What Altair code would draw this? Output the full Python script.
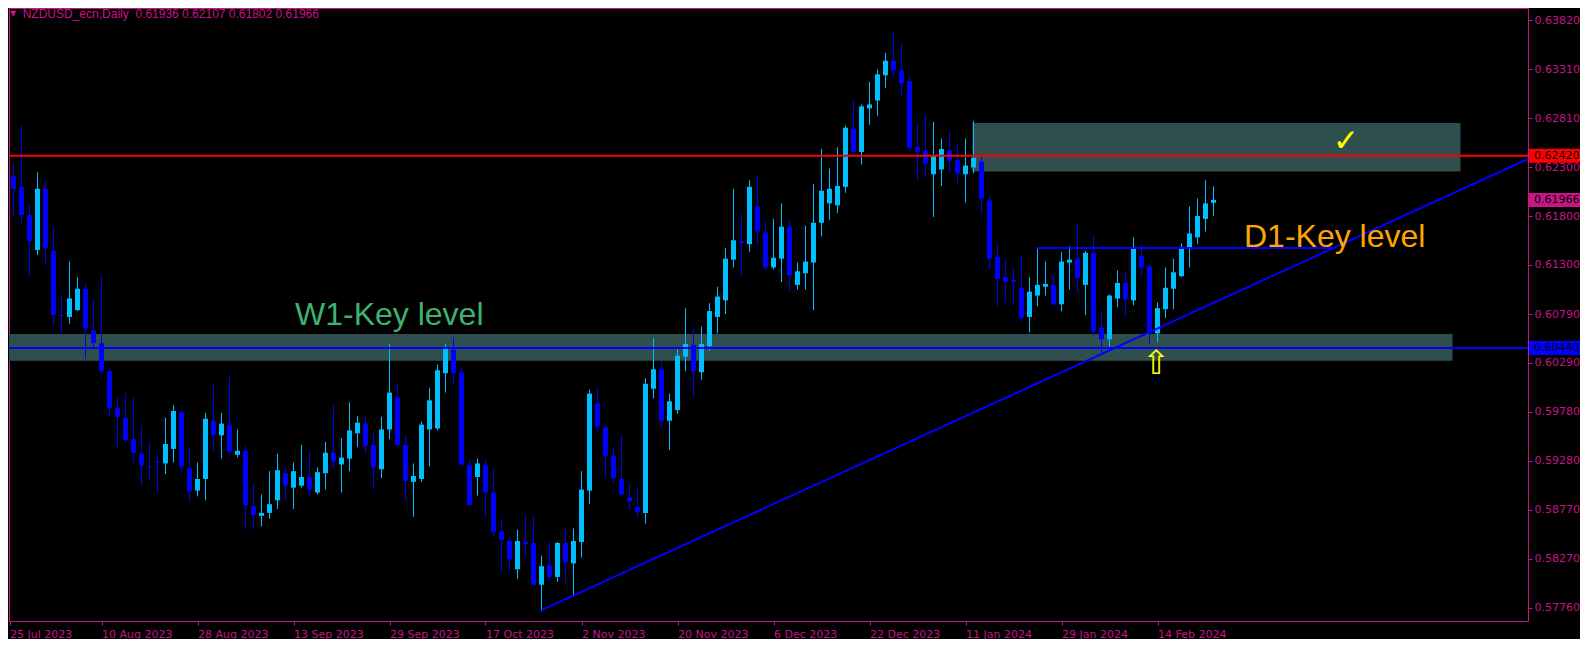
import altair as alt
import pandas as pd

# ---------------- data ----------------
OPEN = [0.6201, 0.6221, 0.6210, 0.6181, 0.6145, 0.6208, 0.6144, 0.6078, 0.6076, 0.6083,
        0.6105, 0.6062, 0.6049, 0.6020, 0.5982, 0.5972, 0.5950, 0.5935, 0.5922, 0.5927,
        0.5925, 0.5940, 0.5978, 0.5920, 0.5897, 0.5909, 0.5969, 0.5954, 0.5965, 0.5934,
        0.5938, 0.5881, 0.5871, 0.5874, 0.5887, 0.5915, 0.5900, 0.5902, 0.5911, 0.5895,
        0.5915, 0.5936, 0.5924, 0.5930, 0.5956, 0.5966, 0.5944, 0.5919, 0.5960, 0.5993,
        0.5944, 0.5906, 0.5909, 0.5960, 0.5961, 0.6018, 0.6042, 0.6019, 0.5923, 0.5911,
        0.5923, 0.5895, 0.5855, 0.5845, 0.5816, 0.5844, 0.5843, 0.5800, 0.5820, 0.5808,
        0.5843, 0.5822, 0.5844, 0.5897, 0.5987, 0.5962, 0.5933, 0.5909, 0.5890, 0.5880,
        0.5874, 0.6002, 0.6022, 0.5969, 0.5980, 0.6035, 0.6047, 0.6019, 0.6046, 0.6076,
        0.6093, 0.6135, 0.6154, 0.6151, 0.6190, 0.6163, 0.6127, 0.6136, 0.6169, 0.6109,
        0.6121, 0.6132, 0.6173, 0.6193, 0.6191, 0.6210, 0.6270, 0.6246, 0.6291, 0.6299,
        0.6325, 0.6340, 0.6330, 0.6319, 0.6251, 0.6247, 0.6223, 0.6228, 0.6248, 0.6238,
        0.6223, 0.6230, 0.6236, 0.6196, 0.6138, 0.6117, 0.6114, 0.6106, 0.6076, 0.6098,
        0.6107, 0.6109, 0.6089, 0.6132, 0.6136, 0.6109, 0.6142, 0.6065, 0.6053, 0.6095,
        0.6111, 0.6093, 0.6139, 0.6128, 0.6059, 0.6084, 0.6105, 0.6118, 0.6148, 0.6158,
        0.6177, 0.61936]
HIGH = [0.6229, 0.6234, 0.6273, 0.6192, 0.6225, 0.6216, 0.6169, 0.6098, 0.6133, 0.6117,
        0.6110, 0.6094, 0.6118, 0.6024, 0.5993, 0.5997, 0.5993, 0.5964, 0.5947, 0.5934,
        0.5972, 0.5985, 0.5980, 0.5942, 0.5926, 0.5977, 0.6006, 0.5977, 0.6014, 0.5960,
        0.5943, 0.5904, 0.5893, 0.5917, 0.5935, 0.5921, 0.5926, 0.5944, 0.5937, 0.5921,
        0.5947, 0.5985, 0.5951, 0.5988, 0.5974, 0.5973, 0.5956, 0.5973, 0.6048, 0.6008,
        0.5954, 0.5925, 0.5968, 0.6003, 0.6027, 0.6048, 0.6055, 0.6025, 0.5929, 0.5930,
        0.5929, 0.5919, 0.5867, 0.5849, 0.5857, 0.5872, 0.5870, 0.5830, 0.5844, 0.5844,
        0.5857, 0.5858, 0.5917, 0.6001, 0.6002, 0.5965, 0.5942, 0.5954, 0.5904, 0.5899,
        0.6013, 0.6054, 0.6030, 0.5997, 0.6043, 0.6085, 0.6064, 0.6066, 0.6090, 0.6107,
        0.6147, 0.6208, 0.6182, 0.6217, 0.6222, 0.6174, 0.6177, 0.6193, 0.6175, 0.6132,
        0.6170, 0.6213, 0.6249, 0.6229, 0.6251, 0.6273, 0.6299, 0.6295, 0.6318, 0.6331,
        0.6348, 0.6369, 0.6358, 0.6324, 0.6276, 0.6285, 0.6277, 0.6260, 0.6267, 0.6254,
        0.6260, 0.6278, 0.6241, 0.6201, 0.6151, 0.6136, 0.6126, 0.6139, 0.6117, 0.6148,
        0.6133, 0.6120, 0.6143, 0.6149, 0.6173, 0.6144, 0.6160, 0.6081, 0.6099, 0.6124,
        0.6123, 0.6158, 0.6151, 0.6130, 0.6091, 0.6127, 0.6136, 0.6152, 0.6190, 0.6198,
        0.6217, 0.62107]
LOW = [0.6185, 0.6181, 0.6173, 0.6119, 0.6140, 0.6129, 0.6067, 0.6059, 0.6069, 0.6082,
       0.6033, 0.6045, 0.6018, 0.5974, 0.5942, 0.5947, 0.5926, 0.5902, 0.5908, 0.5895,
       0.5914, 0.5926, 0.5915, 0.5885, 0.5891, 0.5887, 0.5938, 0.5930, 0.5933, 0.5931,
       0.5857, 0.5857, 0.5860, 0.5868, 0.5878, 0.5887, 0.5878, 0.5900, 0.5891, 0.5893,
       0.5898, 0.5919, 0.5895, 0.5917, 0.5942, 0.5935, 0.5899, 0.5910, 0.5950, 0.5942,
       0.5886, 0.5870, 0.5906, 0.5922, 0.5959, 0.5998, 0.6006, 0.5923, 0.5881, 0.5892,
       0.5870, 0.5850, 0.5814, 0.5815, 0.5806, 0.5828, 0.5799, 0.5773, 0.5804, 0.5803,
       0.5802, 0.5788, 0.5828, 0.5883, 0.5958, 0.5910, 0.5905, 0.5892, 0.5877, 0.5869,
       0.5863, 0.5992, 0.5962, 0.5939, 0.5976, 0.6020, 0.5994, 0.6011, 0.6041, 0.6059,
       0.6079, 0.6127, 0.6119, 0.6143, 0.6150, 0.6124, 0.6125, 0.6112, 0.6103, 0.6104,
       0.6104, 0.6083, 0.6159, 0.6176, 0.6183, 0.6204, 0.6245, 0.6233, 0.6274, 0.6283,
       0.6312, 0.6323, 0.6304, 0.6247, 0.6217, 0.6220, 0.6179, 0.6211, 0.6224, 0.6214,
       0.6194, 0.6224, 0.6182, 0.6125, 0.6087, 0.6091, 0.6088, 0.6071, 0.6060, 0.6087,
       0.6098, 0.6088, 0.6082, 0.6104, 0.6100, 0.6078, 0.6057, 0.6037, 0.6045, 0.6086,
       0.6077, 0.6088, 0.6119, 0.6048, 0.6050, 0.6075, 0.6084, 0.6117, 0.6127, 0.6151,
       0.6164, 0.61802]
CLOSE = [0.6221, 0.6208, 0.6181, 0.6154, 0.6208, 0.6147, 0.6078, 0.6077, 0.6095, 0.6105,
         0.6064, 0.6049, 0.6020, 0.5982, 0.5973, 0.5949, 0.5936, 0.5923, 0.5921, 0.5926,
         0.5945, 0.5979, 0.5922, 0.5896, 0.5909, 0.5971, 0.5954, 0.5966, 0.5937, 0.5938,
         0.5882, 0.5872, 0.5874, 0.5883, 0.5918, 0.5902, 0.5917, 0.5911, 0.5898, 0.5916,
         0.5936, 0.5927, 0.5931, 0.5959, 0.5967, 0.5943, 0.5921, 0.5960, 0.5998, 0.5944,
         0.5907, 0.5912, 0.5965, 0.5990, 0.6021, 0.6043, 0.6018, 0.5924, 0.5882, 0.5925,
         0.5895, 0.5854, 0.5846, 0.5826, 0.5845, 0.5842, 0.5800, 0.5819, 0.5808, 0.5843,
         0.5823, 0.5845, 0.5898, 0.5997, 0.5963, 0.5933, 0.5910, 0.5893, 0.5886, 0.5875,
         0.6007, 0.6022, 0.5969, 0.5989, 0.6036, 0.6048, 0.6020, 0.6048, 0.6082, 0.6097,
         0.6136, 0.6155, 0.6152, 0.6210, 0.6164, 0.6127, 0.6137, 0.6169, 0.6119, 0.6123,
         0.6133, 0.6173, 0.6206, 0.6208, 0.6211, 0.6271, 0.6246, 0.6293, 0.6295, 0.6326,
         0.6340, 0.6330, 0.6317, 0.6250, 0.6246, 0.6234, 0.6242, 0.6249, 0.6237, 0.6224,
         0.6232, 0.6240, 0.6198, 0.6136, 0.6115, 0.6112, 0.6112, 0.6075, 0.6102, 0.6109,
         0.6110, 0.6089, 0.6133, 0.6135, 0.6116, 0.6142, 0.6061, 0.6053, 0.6098, 0.6111,
         0.6094, 0.6146, 0.6127, 0.6059, 0.6085, 0.6106, 0.6122, 0.6148, 0.6162, 0.6180,
         0.6193, 0.61966]

DATE_TICK_BARS = [0, 12, 24, 36, 48, 60, 72, 84, 96, 108, 120, 132, 144]
DATE_TICK_LABELS = ["25 Jul 2023", "10 Aug 2023", "28 Aug 2023", "13 Sep 2023",
                    "29 Sep 2023", "17 Oct 2023", "2 Nov 2023", "20 Nov 2023",
                    "6 Dec 2023", "22 Dec 2023", "11 Jan 2024", "29 Jan 2024",
                    "14 Feb 2024"]
PRICE_TICKS = [0.63820, 0.63310, 0.62810, 0.62300, 0.61800, 0.61300, 0.60790,
               0.60290, 0.59780, 0.59280, 0.58770, 0.58270, 0.57760]

SYMBOL_TEXT = "NZDUSD_ecn,Daily\u00a0 0.61936 0.62107 0.61802 0.61966"
RESIST_LEVEL = 0.62420
SUPPORT_LEVEL = 0.60440
LAST_PRICE = 0.61966
D1_LEVEL = 0.61469
D1_BARS = [128.9, 166.0]
ZONE_X1 = [120.875, 0.4375]
ZONE_X2 = [181.875, 180.875]
ZONE_LO = [0.62259, 0.60309]
ZONE_HI = [0.62758, 0.60584]
TREND_BARS = [67, 190.3125]
TREND_PRICES = [0.57739, 0.62387]

# ---------------- styling ----------------
MAG = "#C71585"
BULL = "#00BFFF"
BEAR = "#0000FF"
ZONE = "#2F4F4F"
X_DOMAIN = [0.4375, 190.3125]
Y_DOMAIN = [0.576260, 0.639437]
W, H = 1519, 613
PX_X = (X_DOMAIN[1] - X_DOMAIN[0]) / W      # bars per pixel
PX_Y = (Y_DOMAIN[1] - Y_DOMAIN[0]) / H      # price per pixel

candles = pd.DataFrame({"idx": list(range(len(OPEN))), "open": OPEN, "high": HIGH,
                        "low": LOW, "close": CLOSE})
candles["dir"] = ["bull" if c >= o else "bear" for o, c in zip(OPEN, CLOSE)]

xscale = alt.Scale(domain=X_DOMAIN, nice=False, zero=False, padding=0)
yscale = alt.Scale(domain=Y_DOMAIN, nice=False, zero=False, padding=0)

tick_vals = [max(v, X_DOMAIN[0] + 0.07) for v in DATE_TICK_BARS]
lab_arr = "[" + ",".join("'" + s + "'" for s in DATE_TICK_LABELS) + "]"
val_arr = "[" + ",".join(repr(v) for v in tick_vals) + "]"

xaxis = alt.Axis(values=tick_vals, labelExpr=f"{lab_arr}[indexof({val_arr}, datum.value)]",
                 orient="bottom", domain=False, grid=False, tickColor=MAG, tickSize=4,
                 labelColor=MAG, labelFont="DejaVu Sans", labelFontSize=11,
                 labelAlign="left", labelBaseline="top", labelPadding=3,
                 labelFlush=False, labelOverlap=False, title=None)
yaxis = alt.Axis(values=PRICE_TICKS, format=".5f", orient="right", domain=False,
                 grid=False, tickColor=MAG, tickSize=4, labelColor=MAG,
                 labelFont="DejaVu Sans", labelFontSize=11, labelAlign="left",
                 labelBaseline="middle", labelPadding=2, labelFlush=False,
                 labelOverlap=False, title=None)

color = alt.Color("dir:N", scale=alt.Scale(domain=["bull", "bear"], range=[BULL, BEAR]),
                  legend=None)


def X(field):
    return alt.X(field, type="quantitative", scale=xscale, axis=xaxis)


def Y(field):
    return alt.Y(field, type="quantitative", scale=yscale, axis=yaxis)


zones = pd.DataFrame({"x1": ZONE_X1, "x2": ZONE_X2, "lo": ZONE_LO, "hi": ZONE_HI})
zone_layer = alt.Chart(zones).mark_rect(color=ZONE, clip=True).encode(
    x=X("x1"), x2="x2", y=Y("lo"), y2="hi")

wicks = alt.Chart(candles).mark_rule(strokeWidth=1, clip=True).encode(
    x=X("idx"), y=Y("low"), y2="high", color=color)
bodies = alt.Chart(candles).mark_bar(size=5, clip=True).encode(
    x=X("idx"), y=Y("open"), y2="close", color=color)

resist = alt.Chart(pd.DataFrame({"p": [RESIST_LEVEL]})).mark_rule(
    color="#FF0000", strokeWidth=2).encode(y=Y("p"))
support = alt.Chart(pd.DataFrame({"p": [SUPPORT_LEVEL]})).mark_rule(
    color=BEAR, strokeWidth=2).encode(y=Y("p"))
d1 = alt.Chart(pd.DataFrame({"a": [D1_BARS[0]], "b": [D1_BARS[1]], "p": [D1_LEVEL]})).mark_rule(
    color=BEAR, strokeWidth=2).encode(x=X("a"), x2="b", y=Y("p"))
trend = alt.Chart(pd.DataFrame({"i": TREND_BARS, "p": TREND_PRICES})).mark_line(
    color=BEAR, strokeWidth=2, clip=True).encode(x=X("i"), y=Y("p"))


def text_layer(txt, bar, price, **kw):
    df = pd.DataFrame({"i": [bar], "p": [price], "t": [txt]})
    return alt.Chart(df).mark_text(**kw).encode(x=X("i"), y=Y("p"), text="t:N")


# positions of annotations (in bar / price units)
title = text_layer(SYMBOL_TEXT, 2.15, 0.63880, align="left", baseline="middle",
                   font="Liberation Sans", fontSize=12, color=MAG)
tri = text_layer("\u25BC", 0.95, 0.63877, align="center", baseline="middle",
                 font="DejaVu Sans", fontSize=8, color=MAG)
w1 = text_layer("W1-Key level", 36.19, 0.60677, align="left", baseline="alphabetic",
                font="Liberation Sans", fontSize=32, color="#3CB371")
d1txt = text_layer("D1-Key level", 154.81, 0.61480, align="left", baseline="alphabetic",
                   font="Liberation Sans", fontSize=32, color="#FFA500")
check = text_layer("\u2713", 167.56, 0.62563, align="center", baseline="middle",
                   font="DejaVu Sans", fontSize=31, fontWeight="bold", color="#FFFF00")
arrow = text_layer("\u21E7", 143.81, 0.60275, align="center", baseline="middle",
                   font="DejaVu Sans", fontSize=33, color="#FFFF00")

# price tags on the right edge
tags = pd.DataFrame({"p": [RESIST_LEVEL, LAST_PRICE, SUPPORT_LEVEL],
                     "fill": ["#FF0000", MAG, BEAR]})
tags["t"] = [f"{v:.5f}" for v in tags["p"]]
tags["a"] = X_DOMAIN[1] + 0.125
tags["b"] = X_DOMAIN[1] + 52 * PX_X
tags["lo"] = tags["p"] - 7 * PX_Y
tags["hi"] = tags["p"] + 7 * PX_Y
tags["tx"] = X_DOMAIN[1] + 6 * PX_X
tag_rect = alt.Chart(tags).mark_rect(clip=False).encode(
    x=X("a"), x2="b", y=Y("lo"), y2="hi",
    color=alt.Color("fill:N", scale=None))
tag_text = alt.Chart(tags).mark_text(clip=False, align="left", baseline="middle",
                                     font="DejaVu Sans", fontSize=11, color="black").encode(
    x=X("tx"), y=Y("p"), text="t:N")

chart = alt.layer(
    zone_layer, wicks, bodies, resist, support, d1, trend,
    title, tri, w1, d1txt, check, arrow, tag_rect, tag_text
).properties(
    width=W, height=H, background="black", padding=0,
    usermeta={"embedOptions": {
        "defaultStyle": "html,body{background:#000;overflow:hidden}svg{display:block}"}}
).configure_view(stroke=MAG, strokeWidth=1)

chart.save("out.html", embed_options={"renderer": "svg", "actions": False})
